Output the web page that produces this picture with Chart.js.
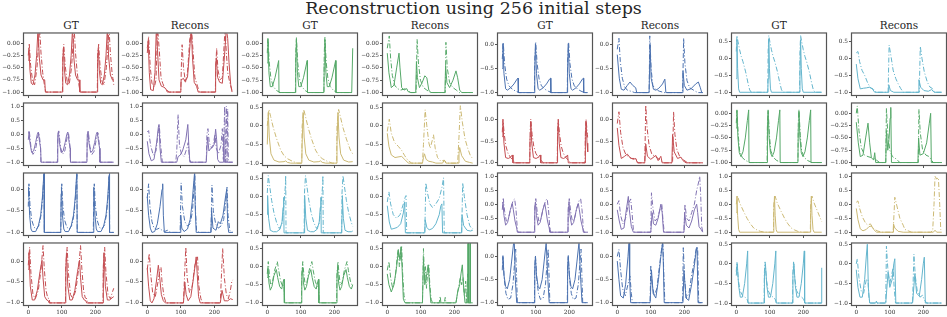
<!DOCTYPE html>
<html>
<head>
<meta charset="utf-8">
<script src="https://cdn.jsdelivr.net/npm/chart.js@4.4.1/dist/chart.umd.min.js"></script>
<style>
  body { margin: 0; background: #fff; width: 947px; height: 317px; position: relative; overflow: hidden; font-family: 'DejaVu Serif', serif; color: #262626; }
  canvas { position: absolute; }
  .title { position: absolute; left: 0; width: 947px; top: 0; text-align: center; font-size: 17.5px; line-height: 17.5px; white-space: nowrap; }
  .sub { position: absolute; top: 20px; width: 94px; text-align: center; font-size: 10.5px; line-height: 10.5px; white-space: nowrap; }
</style>
</head>
<body>
<div class="title">Reconstruction using 256 initial steps</div>
<div id="subs"></div>
<script>
// series are flat [x, y, x, y, ...] lists
const r1c1Solid = [0,-0.35, 2,-0.1, 5,-0.55, 9,-0.82, 14,-0.85, 20,-0.65, 25,-0.25, 29,0.3, 33,-0.3, 38,-0.65, 44,-0.75, 49,-0.75, 51,-1, 102,-1,
  103,-0.35, 105,-0.1, 108,-0.55, 112,-0.82, 117,-0.85, 123,-0.65, 128,-0.25, 132,0.3, 136,-0.3, 141,-0.65, 147,-0.75, 152,-0.75, 154,-1, 206,-1,
  207,-0.35, 209,-0.1, 212,-0.55, 216,-0.82, 221,-0.85, 227,-0.65, 232,-0.25, 236,0.3, 240,-0.3, 245,-0.65, 251,-0.75, 255,-0.75]
const r1c1Dash = [0,-0.25, 3,-0.02, 7,-0.45, 13,-0.78, 19,-0.85, 26,-0.5, 31,0.0, 34,0.3, 38,-0.2, 43,-0.6, 48,-0.85, 52,-1, 102,-1,
  103,-0.25, 106,-0.02, 110,-0.45, 116,-0.78, 122,-0.85, 129,-0.5, 134,0.0, 137,0.3, 141,-0.2, 146,-0.6, 151,-0.85, 155,-1, 206,-1,
  207,-0.25, 210,-0.02, 214,-0.45, 220,-0.78, 226,-0.85, 233,-0.5, 238,0.0, 241,0.3, 245,-0.2, 250,-0.6, 255,-0.85]
const r1c2Solid = [0,-0.1, 3,0.05, 6,-0.6, 10,-0.95, 18,-0.97, 23,-0.6, 27,0.3, 31,-0.2, 35,-0.75, 42,-0.88, 50,-0.9, 55,-0.93, 60,-1, 100,-1,
  101,-0.75, 108,-0.72, 112,-0.78, 120,-0.7, 128,0.0, 131,0.3, 135,-0.3, 140,-0.8, 147,-0.88, 152,-1, 203,-1,
  204,-0.45, 206,-0.3, 210,-0.7, 216,-0.8, 224,-0.82, 230,-0.3, 236,0.3, 240,0.1, 244,-0.4, 249,-0.85, 253,-1, 255,-1]
const r1c2Dash = [0,-0.2, 4,0.14, 9,-0.5, 14,-0.82, 21,-0.9, 26,-0.75, 31,0.3, 36,-0.16, 41,-0.7, 46,-0.82, 51,-0.9, 56,-0.95, 66,-1, 100,-1,
  102,-0.4, 104,-0.03, 108,-0.5, 114,-0.8, 120,-0.6, 127,0.1, 132,0.3, 137,-0.2, 142,-0.7, 150,-0.88, 155,-1, 203,-1,
  205,-0.4, 207,-0.1, 211,-0.55, 217,-0.75, 224,-0.7, 232,0.3, 236,-0.2, 240,-0.6, 246,-0.8, 252,-0.95, 255,-1]

const r1c3Solid = [0,-0.4, 2,0.08, 5,-0.6, 9,-0.88, 15,-0.88, 23,-0.7, 30,-0.48, 34,-0.35, 35,-1, 84,-1,
  85,-0.4, 87,0.08, 90,-0.6, 94,-0.88, 100,-0.88, 108,-0.7, 115,-0.48, 119,-0.35, 120,-1, 169,-1,
  170,-0.4, 172,0.08, 175,-0.6, 179,-0.88, 185,-0.88, 193,-0.7, 200,-0.48, 204,-0.35, 205,-1, 252,-1, 255,-0.1]
const r1c3Dash = [0,-0.2, 2,0.12, 6,-0.4, 11,-0.72, 18,-0.88, 28,-0.96, 38,-1, 84,-1,
  85,-0.2, 87,0.12, 91,-0.4, 96,-0.72, 103,-0.88, 113,-0.96, 123,-1, 169,-1,
  170,-0.2, 172,0.12, 176,-0.4, 181,-0.72, 188,-0.88, 198,-0.96, 208,-1, 255,-1]
const r1c4Solid = [0,-0.2, 5,-0.6, 12,-0.9, 20,-0.85, 28,-0.5, 35,-0.2, 38,-0.5, 43,-0.9, 50,-0.95, 58,-0.92, 62,-0.98, 70,-1, 85,-1,
  87,-0.37, 90,-0.7, 96,-0.9, 104,-0.8, 112,-0.66, 118,-0.7, 124,-0.95, 130,-1, 172,-1,
  174,-0.45, 178,-0.8, 186,-0.9, 196,-0.75, 205,-0.56, 210,-0.7, 216,-0.95, 222,-1, 255,-1]
const r1c4Dash = [0,-0.1, 6,0.15, 10,-0.3, 15,-0.65, 22,-0.85, 30,-0.92, 40,-0.95, 55,-0.92, 60,-0.95, 70,-1, 86,-1,
  89,0.08, 93,-0.4, 99,-0.75, 108,-0.9, 118,-0.95, 128,-1, 173,-1,
  175,0.02, 179,-0.5, 186,-0.8, 196,-0.9, 206,-0.95, 215,-1, 255,-1]

const r1c5Solid = [0,-0.5, 2,0.02, 5,-0.6, 10,-0.92, 15,-0.95, 25,-0.9, 35,-0.82, 44,-0.72, 47,-0.7, 48,-1, 96,-1,
  97,-0.5, 99,0.02, 102,-0.6, 107,-0.92, 112,-0.95, 122,-0.9, 132,-0.82, 141,-0.72, 144,-0.7, 145,-1, 194,-1,
  195,-0.5, 197,0.02, 200,-0.6, 205,-0.92, 210,-0.95, 220,-0.9, 230,-0.82, 239,-0.72, 242,-0.7, 243,-1, 255,-1]
const r1c5Dash = [0,-0.3, 3,0.04, 7,-0.4, 13,-0.72, 20,-0.86, 30,-0.93, 40,-0.97, 50,-1, 96,-1,
  97,-0.3, 100,0.04, 104,-0.4, 110,-0.72, 117,-0.86, 127,-0.93, 137,-0.97, 147,-1, 194,-1,
  195,-0.3, 198,0.04, 202,-0.4, 208,-0.72, 215,-0.86, 225,-0.93, 235,-0.97, 245,-1, 255,-1]
const r1c6Solid = [0,-0.21, 6,-0.7, 12,-0.93, 20,-0.95, 30,-0.85, 38,-0.78, 46,-0.85, 55,-0.9, 58,-1, 95,-1,
  98,-0.01, 101,-0.7, 108,-0.93, 115,-0.95, 122,-0.92, 128,-0.88, 135,-0.82, 142,-0.72, 145,-1, 194,-1,
  196,-0.55, 200,-0.85, 208,-0.95, 220,-0.92, 234,-0.82, 242,-0.78, 248,-0.9, 252,-1, 255,-1]
const r1c6Dash = [0,-0.1, 5,0.13, 9,-0.35, 15,-0.7, 22,-0.88, 30,-0.95, 40,-0.97, 52,-1, 95,-1,
  97,0.18, 101,-0.5, 106,-0.85, 114,-0.93, 125,-0.97, 140,-1, 195,-1,
  198,0.13, 202,-0.4, 208,-0.75, 216,-0.9, 228,-0.95, 240,-1, 255,-1]

const r1c7Solid = [0,-0.6, 2,0.55, 4,-0.3, 7,-0.9, 10,-1, 94,-1,
  95,-0.6, 97,0.55, 99,-0.3, 102,-0.9, 105,-1, 189,-1,
  190,-0.6, 192,0.55, 194,-0.3, 197,-0.9, 200,-1, 255,-1]
const r1c7Dash = [0,0.2, 2,0.67, 5,0.5, 10,0.25, 15,0.05, 20,-0.1, 28,-0.4, 35,-0.73, 40,-0.93, 45,-1, 94,-1,
  95,0.2, 97,0.67, 100,0.5, 105,0.25, 110,0.05, 115,-0.1, 123,-0.4, 130,-0.73, 135,-0.93, 140,-1, 189,-1,
  190,0.2, 192,0.67, 195,0.5, 200,0.25, 205,0.05, 210,-0.1, 218,-0.4, 225,-0.73, 230,-0.93, 235,-1, 255,-1]
const r1c8Solid = [0,-0.17, 5,-0.6, 12,-0.9, 22,-0.88, 30,-0.87, 40,-0.85, 48,-0.9, 55,-1, 95,-1,
  97,-0.78, 102,-0.95, 112,-1, 186,-1,
  187,-0.63, 192,-0.85, 202,-0.95, 215,-0.97, 225,-0.92, 232,-1, 255,-1]
const r1c8Dash = [0,0.16, 5,0.2, 10,-0.1, 17,-0.35, 25,-0.5, 33,-0.7, 42,-0.87, 50,-0.9, 60,-1, 95,-1,
  98,0.39, 103,0.1, 110,-0.35, 118,-0.6, 125,-0.75, 132,-0.88, 140,-1, 188,-1,
  191,0.35, 196,0.0, 203,-0.4, 212,-0.7, 220,-0.85, 225,-0.87, 232,-0.97, 240,-1, 255,-1]

const r2c1Solid = [0,0.0, 2,0.1, 5,-0.3, 10,-0.65, 16,-0.6, 22,-0.3, 27,0.0, 30,0.08, 34,-0.3, 37,-0.5, 38,-1, 87,-1,
  88,0.0, 90,0.1, 93,-0.3, 98,-0.65, 104,-0.6, 110,-0.3, 115,0.0, 118,0.08, 122,-0.3, 125,-0.5, 126,-1, 175,-1,
  176,0.0, 178,0.1, 181,-0.3, 186,-0.65, 192,-0.6, 198,-0.3, 203,0.0, 206,0.08, 210,-0.3, 213,-0.5, 214,-1, 255,-1]
const r2c1Dash = [0,-0.2, 3,0.12, 8,-0.45, 14,-0.72, 21,-0.6, 28,-0.1, 32,0.05, 36,-0.35, 38,-1, 87,-1,
  88,-0.2, 91,0.12, 96,-0.45, 102,-0.72, 109,-0.6, 116,-0.1, 120,0.05, 124,-0.35, 126,-1, 175,-1,
  176,-0.2, 179,0.12, 184,-0.45, 190,-0.72, 197,-0.6, 204,-0.1, 208,0.05, 212,-0.35, 214,-1, 255,-1]
const r2c2Solid = [0,-0.25, 5,-0.7, 12,-0.95, 20,-0.9, 28,-0.3, 33,0.25, 35,0.35, 38,-0.5, 42,-1, 88,-1,
  92,-0.8, 98,-0.75, 105,-0.6, 115,-0.2, 121,0.35, 124,-0.4, 127,-1, 176,-1,
  180,-0.1, 184,-0.6, 190,-0.5, 196,-0.45, 200,-0.35, 204,0.18, 207,-0.2, 210,-0.9, 215,-1, 226,-1, 228,0.0, 230,-1, 255,-1]
const r2c2Dash = [0,0.08, 4,0.13, 10,-0.4, 18,-0.75, 26,-0.6, 33,0.1, 36,0.3, 40,-0.4, 45,-1, 85,-1,
  88,-0.6, 92,0.7, 96,-0.4, 102,-0.7, 110,-0.8, 118,-0.5, 122,-0.3, 126,-0.9, 130,-1, 176,-1,
  178,0.0, 181,0.2, 185,-0.3, 192,-0.5, 198,-0.3, 202,0.0, 206,-0.5, 212,-0.7, 220,-0.4, 224,0.2, 227,-0.9,
  231,1.0, 233,-1, 236,1.0, 238,-1, 240,0.9, 242,-1, 255,-1]

const r2c3Solid = [0,-0.5, 3,0.36, 6,-0.3, 11,-0.75, 20,-0.92, 35,-0.97, 50,-0.96, 55,-0.94, 60,-0.98, 70,-1, 103,-1,
  104,-0.5, 107,0.36, 110,-0.3, 115,-0.75, 124,-0.92, 139,-0.97, 154,-0.96, 159,-0.94, 164,-0.98, 174,-1, 207,-1,
  208,-0.5, 211,0.36, 214,-0.3, 219,-0.75, 228,-0.92, 243,-0.97, 255,-0.96]
const r2c3Dash = [0,0.0, 5,0.44, 10,0.25, 18,-0.05, 28,-0.35, 40,-0.65, 50,-0.8, 60,-0.88, 75,-0.95, 90,-1, 103,-1,
  104,0.0, 109,0.44, 114,0.25, 122,-0.05, 132,-0.35, 144,-0.65, 154,-0.8, 164,-0.88, 179,-0.95, 194,-1, 207,-1,
  208,0.0, 213,0.44, 218,0.25, 226,-0.05, 236,-0.35, 248,-0.65, 255,-0.75]
const r2c4Solid = [0,-0.2, 5,-0.55, 12,-0.78, 23,-0.85, 35,-0.83, 43,-0.82, 52,-0.9, 63,-1, 105,-1,
  108,-0.85, 111,-0.75, 116,-0.9, 124,-0.95, 135,-0.97, 145,-1, 165,-1, 170,-0.92, 175,-1, 212,-1,
  214,-0.75, 216,-0.58, 222,-0.8, 233,-0.95, 245,-0.98, 255,-1]
const r2c4Dash = [0,-0.15, 6,0.18, 12,-0.2, 22,-0.45, 33,-0.55, 43,-0.66, 52,-0.8, 62,-0.93, 73,-1, 105,-1,
  108,-0.5, 113,0.43, 118,0.0, 124,-0.45, 128,-0.6, 134,-0.4, 138,-0.24, 143,-0.6, 150,-0.85, 160,-0.95, 170,-0.92, 178,-1, 210,-1,
  214,-0.3, 218,0.54, 224,0.1, 232,-0.35, 240,-0.6, 248,-0.8, 255,-0.88]

const r2c5Solid = [0,-0.4, 2,-0.05, 5,-0.55, 10,-0.88, 18,-0.9, 25,-0.87, 30,-0.82, 32,-1, 82,-1,
  83,-0.4, 85,-0.05, 88,-0.55, 93,-0.88, 101,-0.9, 108,-0.87, 113,-0.82, 115,-1, 164,-1,
  165,-0.4, 167,-0.05, 170,-0.55, 175,-0.88, 183,-0.9, 190,-0.87, 195,-0.82, 197,-1, 247,-1,
  248,-0.4, 250,-0.05, 253,-0.55, 255,-0.75]
const r2c5Dash = [0,-0.3, 2,0.0, 6,-0.35, 11,-0.62, 17,-0.78, 25,-0.88, 33,-0.95, 40,-1, 82,-1,
  83,-0.3, 85,0.0, 89,-0.35, 94,-0.62, 100,-0.78, 108,-0.88, 116,-0.95, 123,-1, 164,-1,
  165,-0.3, 167,0.0, 171,-0.35, 176,-0.62, 182,-0.78, 190,-0.88, 198,-0.95, 205,-1, 247,-1,
  248,-0.3, 250,0.0, 254,-0.35, 255,-0.45]
const r2c6Solid = [0,-0.2, 5,-0.6, 12,-0.9, 22,-0.85, 30,-0.8, 38,-0.88, 48,-0.92, 55,-0.9, 60,-1, 82,-1,
  85,-0.57, 90,-0.85, 100,-0.92, 115,-0.83, 122,-0.95, 130,-0.85, 134,-1, 163,-1,
  165,-0.35, 170,-0.75, 180,-0.9, 190,-0.87, 196,-0.95, 205,-1, 255,-1]
const r2c6Dash = [0,-0.1, 5,0.17, 10,-0.3, 17,-0.65, 25,-0.8, 32,-0.85, 42,-0.9, 55,-0.9, 62,-1, 82,-1,
  85,0.32, 89,-0.2, 95,-0.6, 103,-0.8, 112,-0.85, 122,-0.9, 130,-0.95, 140,-1, 165,-1,
  168,0.17, 172,-0.35, 178,-0.7, 186,-0.85, 195,-0.92, 210,-1, 255,-1]

const r2c7Solid = [0,-0.3, 2,0.05, 5,-0.5, 9,-0.8, 14,-0.88, 20,-0.78, 27,-0.5, 33,-0.15, 37,0.07, 38,-1, 92,-1,
  93,-0.3, 95,0.05, 98,-0.5, 102,-0.8, 107,-0.88, 113,-0.78, 120,-0.5, 126,-0.15, 130,0.07, 131,-1, 184,-1,
  185,-0.3, 187,0.05, 190,-0.5, 194,-0.8, 199,-0.88, 205,-0.78, 212,-0.5, 218,-0.15, 222,0.07, 223,-1, 255,-1]
const r2c7Dash = [0,-0.2, 2,0.07, 6,-0.45, 10,-0.76, 18,-0.9, 28,-0.96, 35,-0.98, 40,-1, 92,-1,
  93,-0.2, 95,0.07, 99,-0.45, 103,-0.76, 111,-0.9, 121,-0.96, 128,-0.98, 133,-1, 184,-1,
  185,-0.2, 187,0.07, 191,-0.45, 195,-0.76, 203,-0.9, 213,-0.96, 220,-0.98, 225,-1, 255,-1]
const r2c8Solid = [0,-0.18, 6,-0.6, 12,-0.88, 20,-0.85, 28,-0.5, 35,-0.2, 40,-0.6, 45,-0.9, 52,-0.95, 55,-0.8, 58,-1, 88,-1,
  90,-0.35, 94,-0.75, 98,-0.5, 101,-0.1, 103,0.12, 105,-1, 184,-1,
  186,-0.5, 190,-0.85, 200,-0.82, 210,-0.6, 218,-0.2, 222,0.0, 224,-1, 255,-1]
const r2c8Dash = [0,0.0, 3,0.15, 8,-0.35, 15,-0.7, 25,-0.85, 35,-0.88, 45,-0.9, 55,-0.92, 60,-0.95, 70,-1, 88,-1,
  90,0.1, 94,-0.4, 100,-0.75, 108,-0.88, 120,-0.93, 130,-1, 185,-1,
  187,0.08, 191,-0.4, 198,-0.75, 208,-0.85, 218,-0.88, 224,-0.95, 230,-1, 255,-1]

const r3c1Solid = [0,-0.1, 1,0.05, 4,-0.6, 8,-0.92, 12,-0.98, 22,-0.98, 30,-0.85, 37,-0.6, 42,-0.2, 46,0.3, 47,0.4, 48,-1, 97,-1,
  98,-0.1, 99,0.05, 102,-0.6, 106,-0.92, 110,-0.98, 120,-0.98, 128,-0.85, 135,-0.6, 140,-0.2, 144,0.3, 145,0.4, 146,-1, 194,-1,
  195,-0.1, 196,0.05, 199,-0.6, 203,-0.92, 207,-0.98, 217,-0.98, 225,-0.85, 232,-0.6, 237,-0.2, 241,0.3, 242,0.4, 243,-1, 255,-1]
const r3c1Dash = [0,-0.4, 2,0.13, 5,-0.35, 10,-0.7, 17,-0.88, 25,-0.92, 33,-0.82, 39,-0.55, 44,-0.05, 47,0.4, 48,-1, 97,-1,
  98,-0.4, 100,0.13, 103,-0.35, 108,-0.7, 115,-0.88, 123,-0.92, 131,-0.82, 137,-0.55, 142,-0.05, 145,0.4, 146,-1, 194,-1,
  195,-0.4, 197,0.13, 200,-0.35, 205,-0.7, 212,-0.88, 220,-0.92, 228,-0.82, 234,-0.55, 239,-0.05, 242,0.4, 243,-1, 255,-1]
const r3c2Solid = [0,-0.17, 4,-0.6, 9,-0.9, 14,-1, 22,-0.98, 30,-0.8, 38,-0.4, 44,0.0, 46,0.13, 48,-0.6, 51,-1, 98,-1,
  100,-0.6, 103,-0.9, 110,-0.98, 120,-0.92, 128,-0.7, 134,-0.3, 139,0.2, 141,0.37, 143,-0.4, 146,-1, 190,-1,
  192,-0.5, 196,-0.9, 205,-0.95, 212,-0.75, 218,-0.8, 226,-0.6, 233,-0.2, 237,0.0, 240,-0.8, 243,-1, 255,-1]
const r3c2Dash = [0,-0.2, 4,0.13, 8,-0.4, 14,-0.75, 20,-0.9, 28,-0.93, 36,-0.9, 44,-0.95, 52,-0.98, 60,-0.95, 70,-1, 98,-1,
  101,0.15, 105,-0.4, 112,-0.75, 120,-0.85, 128,-0.8, 135,-0.5, 140,0.1, 142,0.4, 144,-0.5, 147,-0.95, 155,-1, 190,-1,
  193,0.1, 197,-0.5, 204,-0.8, 212,-0.9, 220,-0.85, 228,-0.7, 234,-0.3, 238,0.05, 241,-0.6, 246,-0.95, 255,-1]

const r3c3Solid = [0,-0.5, 1,0.03, 4,-0.6, 9,-0.93, 18,-0.97, 28,-0.97, 38,-0.9, 44,-0.7, 47,-0.3, 49,-0.02, 50,-1, 110,-1,
  111,-0.5, 112,0.03, 115,-0.6, 120,-0.93, 129,-0.97, 139,-0.97, 149,-0.9, 155,-0.7, 158,-0.3, 160,-0.02, 161,-1, 222,-1,
  223,-0.5, 224,0.03, 227,-0.6, 232,-0.93, 241,-0.97, 251,-0.97, 255,-0.95]
const r3c3Dash = [0,0.1, 3,0.58, 7,0.3, 13,-0.1, 20,-0.45, 28,-0.72, 36,-0.88, 44,-0.75, 50,-0.2, 54,0.3, 55,0.58, 56,-1, 110,-1,
  111,0.1, 114,0.58, 118,0.3, 124,-0.1, 131,-0.45, 139,-0.72, 147,-0.88, 155,-0.75, 161,-0.2, 165,0.3, 166,0.58, 167,-1, 222,-1,
  223,0.1, 226,0.58, 230,0.3, 236,-0.1, 243,-0.45, 251,-0.72, 255,-0.82]
const r3c4Solid = [0,-0.25, 6,-0.7, 12,-0.9, 20,-0.88, 30,-0.85, 40,-0.75, 48,-0.45, 52,-0.15, 54,-1, 112,-1,
  113,-0.64, 118,-0.85, 125,-0.92, 135,-0.88, 145,-0.75, 155,-0.5, 160,-0.25, 163,-0.2, 165,-1, 222,-1,
  223,-0.5, 228,-0.8, 238,-0.93, 248,-0.95, 255,-0.93]
const r3c4Dash = [0,-0.15, 5,0.13, 10,-0.2, 18,-0.5, 28,-0.6, 38,-0.5, 48,-0.2, 54,0.0, 56,0.03, 58,-1, 112,-1,
  115,0.38, 120,0.1, 127,-0.2, 135,-0.3, 145,-0.2, 155,-0.05, 163,0.25, 168,0.52, 170,-1, 222,-1,
  225,0.38, 230,0.0, 238,-0.5, 246,-0.8, 253,-0.9, 255,-0.88]

const r3c5Solid = [0,-0.1, 2,0.08, 5,-0.4, 10,-0.75, 16,-0.65, 24,-0.2, 30,0.02, 33,-0.2, 38,-0.6, 43,-0.85, 45,-1, 96,-1,
  97,-0.1, 99,0.08, 102,-0.4, 107,-0.75, 113,-0.65, 121,-0.2, 127,0.02, 130,-0.2, 135,-0.6, 140,-0.85, 142,-1, 196,-1,
  197,-0.1, 199,0.08, 202,-0.4, 207,-0.75, 213,-0.65, 221,-0.2, 227,0.02, 230,-0.2, 235,-0.6, 240,-0.85, 242,-1, 255,-1]
const r3c5Dash = [0,-0.2, 3,0.2, 7,-0.25, 12,-0.6, 18,-0.55, 26,-0.1, 33,0.15, 37,0.19, 41,-0.2, 45,-0.9, 47,-1, 96,-1,
  97,-0.2, 100,0.2, 104,-0.25, 109,-0.6, 115,-0.55, 123,-0.1, 130,0.15, 134,0.19, 138,-0.2, 142,-0.9, 144,-1, 196,-1,
  197,-0.2, 200,0.2, 204,-0.25, 209,-0.6, 215,-0.55, 223,-0.1, 230,0.15, 234,0.19, 238,-0.2, 242,-0.9, 244,-1, 255,-1]
const r3c6Solid = [0,-0.2, 6,-0.6, 12,-0.9, 20,-0.85, 27,-0.2, 33,0.28, 36,-0.2, 42,-0.8, 48,-1, 100,-1,
  104,-0.3, 108,-0.7, 115,-0.75, 122,-0.5, 130,0.0, 134,-0.3, 138,-1, 199,-1,
  201,-0.3, 206,-0.75, 214,-0.85, 222,-0.6, 230,-0.2, 237,0.0, 240,-0.3, 244,-0.8, 250,-0.9, 255,-1]
const r3c6Dash = [0,0.0, 5,0.13, 10,-0.4, 17,-0.7, 25,-0.5, 33,0.0, 40,0.19, 44,-0.3, 48,-0.9, 52,-1, 100,-1,
  102,0.41, 107,-0.2, 113,-0.6, 120,-0.5, 127,-0.2, 133,0.0, 136,-0.5, 140,-1, 199,-1,
  202,0.0, 207,-0.5, 214,-0.6, 222,-0.3, 230,0.0, 237,0.5, 243,0.8, 246,1.0, 249,0.3, 252,-0.8, 255,-1]

const r3c7Solid = [0,-0.3, 2,0.29, 4,-0.4, 7,-0.9, 10,-1, 111,-1,
  112,-0.3, 114,0.29, 116,-0.4, 119,-0.9, 122,-1, 221,-1,
  222,-0.3, 224,0.29, 226,-0.4, 229,-0.9, 232,-1, 255,-1]
const r3c7Dash = [0,0.0, 4,0.29, 10,0.05, 22,-0.26, 32,-0.5, 42,-0.7, 52,-0.85, 62,-0.92, 72,-0.97, 85,-1, 111,-1,
  112,0.0, 116,0.29, 122,0.05, 134,-0.26, 144,-0.5, 154,-0.7, 164,-0.85, 174,-0.92, 184,-0.97, 197,-1, 221,-1,
  222,0.0, 226,0.29, 232,0.05, 244,-0.3, 255,-0.62]
const r3c8Solid = [0,-0.15, 5,-0.55, 12,-0.88, 20,-0.95, 30,-0.9, 38,-0.8, 45,-0.78, 52,-0.9, 60,-1, 110,-1,
  111,-0.7, 115,-0.85, 125,-0.97, 140,-1, 230,-1, 235,-0.93, 240,-1, 255,-1]
const r3c8Dash = [0,0.07, 5,0.12, 10,-0.15, 18,-0.45, 28,-0.68, 35,-0.75, 42,-0.7, 50,-0.85, 62,-0.95, 75,-1, 110,-1,
  115,0.25, 122,-0.1, 130,-0.5, 140,-0.75, 145,-0.9, 155,-0.95, 165,-1, 222,-1,
  228,-0.95, 232,0.0, 235,1.0, 240,0.9, 245,0.95, 249,0.0, 252,-0.9, 255,-0.95]

const r4c1Solid = [0,-0.2, 2,0.2, 6,-0.6, 12,-0.93, 19,-0.93, 27,-0.7, 35,-0.25, 41,0.02, 44,-0.4, 49,-0.85, 55,-0.93, 60,-0.95, 62,-1, 111,-1,
  112,-0.2, 114,0.2, 118,-0.6, 124,-0.93, 131,-0.93, 139,-0.7, 147,-0.25, 153,0.02, 156,-0.4, 161,-0.85, 167,-0.93, 172,-0.95, 174,-1, 223,-1,
  224,-0.2, 226,0.2, 230,-0.6, 236,-0.93, 243,-0.93, 250,-0.88, 255,-0.85]
const r4c1Dash = [0,-0.1, 4,0.33, 8,-0.3, 14,-0.8, 21,-0.9, 30,-0.7, 38,-0.2, 44,0.37, 48,-0.2, 53,-0.7, 58,-0.88, 63,-0.9, 64,-1, 111,-1,
  112,-0.1, 116,0.33, 120,-0.3, 126,-0.8, 133,-0.9, 142,-0.7, 150,-0.2, 156,0.37, 160,-0.2, 165,-0.7, 170,-0.88, 175,-0.9, 176,-1, 223,-1,
  224,-0.1, 228,0.33, 232,-0.3, 238,-0.8, 245,-0.9, 252,-0.72, 255,-0.65]
const r4c2Solid = [0,-0.17, 4,-0.6, 9,-0.95, 14,-1, 20,-0.9, 27,-0.5, 33,-0.1, 36,-0.3, 42,-0.8, 48,-0.95, 54,-1, 108,-1,
  112,-0.5, 116,-0.8, 122,-0.95, 130,-0.85, 138,-0.4, 146,0.1, 149,-0.3, 153,-0.85, 158,-1, 218,-1,
  223,-0.7, 230,-0.95, 240,-0.95, 248,-0.9, 255,-0.92]
const r4c2Dash = [0,-0.2, 6,0.18, 10,-0.3, 16,-0.75, 24,-0.85, 32,-0.5, 38,-0.2, 41,-0.15, 44,-0.5, 50,-0.85, 56,-1, 108,-1,
  112,-0.2, 115,0.33, 119,-0.4, 126,-0.75, 134,-0.6, 142,-0.1, 150,0.1, 154,-0.6, 160,-0.9, 165,-1, 218,-1,
  222,-0.2, 225,0.3, 230,-0.4, 236,-0.8, 242,-0.9, 248,-0.7, 252,-0.5, 255,-0.45]

const r4c3Solid = [0,-0.3, 2,-0.02, 5,-0.45, 9,-0.65, 14,-0.55, 20,-0.25, 27,-0.08, 31,-0.3, 37,-0.55, 43,-0.62, 48,-0.4, 50,-0.35, 51,-1, 102,-1,
  103,-0.3, 105,-0.02, 108,-0.45, 112,-0.65, 117,-0.55, 123,-0.25, 130,-0.08, 134,-0.3, 140,-0.55, 146,-0.62, 151,-0.4, 153,-0.35, 154,-1, 207,-1,
  208,-0.3, 210,-0.02, 213,-0.45, 217,-0.65, 222,-0.55, 228,-0.25, 235,-0.08, 239,-0.3, 245,-0.55, 251,-0.62, 255,-0.5]
const r4c3Dash = [0,-0.2, 3,0.14, 6,-0.2, 10,-0.5, 15,-0.45, 22,-0.1, 30,0.14, 34,-0.1, 40,-0.4, 46,-0.55, 50,-0.5, 52,-1, 102,-1,
  103,-0.2, 106,0.14, 109,-0.2, 113,-0.5, 118,-0.45, 125,-0.1, 133,0.14, 137,-0.1, 143,-0.4, 149,-0.55, 153,-0.5, 155,-1, 207,-1,
  208,-0.2, 211,0.14, 214,-0.2, 218,-0.5, 223,-0.45, 230,-0.1, 238,0.14, 242,-0.1, 248,-0.4, 255,-0.55]
const r4c4Solid = [0,-0.2, 5,-0.5, 12,-0.7, 20,-0.5, 28,0.0, 33,0.45, 38,0.2, 41,0.55, 44,0.0, 48,-0.9, 53,-1, 105,-1,
  108,0.2, 112,-0.5, 118,-0.2, 122,0.05, 126,-0.5, 130,-1, 205,-1,
  210,-0.7, 216,-0.5, 220,-0.2, 224,0.05, 228,-0.6, 232,-1, 240,-1, 241,0.8, 242,-1, 246,-1, 247,0.8, 248,-1, 255,-1]
const r4c4Dash = [0,-0.1, 5,0.14, 10,-0.3, 16,-0.6, 24,-0.3, 30,0.3, 33,0.5, 36,0.0, 40,0.4, 43,0.55, 46,-0.2, 50,-0.8, 55,-1, 105,-1,
  108,0.5, 111,-0.3, 114,0.0, 117,-0.6, 120,-0.2, 124,0.05, 127,-0.5, 131,-0.9, 135,-1, 155,-1, 158,-0.82, 160,-1, 170,-1, 173,-0.85, 175,-1, 205,-1,
  212,-0.6, 218,-0.3, 222,-0.5, 226,-0.3, 230,-0.8, 234,-0.4, 236,-1, 240,-0.2, 242,-1, 255,-1]

const r4c5Solid = [0,-0.2, 2,0.0, 5,-0.4, 10,-0.65, 15,-0.7, 22,-0.5, 28,-0.1, 34,0.3, 36,0.3, 39,-0.5, 43,-1, 96,-1,
  97,-0.2, 99,0.0, 102,-0.4, 107,-0.65, 112,-0.7, 119,-0.5, 125,-0.1, 131,0.3, 133,0.3, 136,-0.5, 140,-1, 194,-1,
  195,-0.2, 197,0.0, 200,-0.4, 205,-0.65, 210,-0.7, 217,-0.5, 223,-0.1, 229,0.3, 231,0.3, 234,-0.5, 238,-1, 255,-1]
const r4c5Dash = [0,-0.3, 2,0.02, 6,-0.5, 11,-0.8, 17,-0.93, 25,-0.9, 32,-0.6, 37,-0.1, 40,0.16, 43,-0.5, 45,-1, 96,-1,
  97,-0.3, 99,0.02, 103,-0.5, 108,-0.8, 114,-0.93, 122,-0.9, 129,-0.6, 134,-0.1, 137,0.16, 140,-0.5, 142,-1, 194,-1,
  195,-0.3, 197,0.02, 201,-0.5, 206,-0.8, 212,-0.93, 220,-0.9, 227,-0.6, 232,-0.1, 235,0.16, 238,-0.5, 240,-1, 255,-1]
const r4c6Solid = [0,-0.1, 5,-0.5, 10,-0.85, 18,-0.9, 25,-0.6, 32,0.0, 35,0.3, 37,-0.5, 40,-1, 98,-1,
  102,-0.3, 107,-0.8, 115,-0.9, 123,-0.5, 130,0.0, 135,0.3, 137,0.0, 140,-1, 196,-1,
  199,-0.3, 205,-0.9, 213,-0.95, 222,-0.6, 230,-0.2, 235,0.1, 238,0.2, 241,-1, 255,-1]
const r4c6Dash = [0,0.0, 5,0.15, 10,-0.3, 16,-0.7, 24,-0.85, 32,-0.6, 38,-0.43, 42,-0.8, 45,-1, 98,-1,
  100,-0.19, 104,-0.6, 110,-0.85, 118,-0.7, 126,-0.2, 133,0.2, 136,0.3, 139,-0.4, 142,-1, 195,-1,
  197,0.19, 201,-0.5, 206,-0.9, 214,-0.8, 222,-0.4, 230,-0.1, 236,0.2, 240,0.15, 243,-1, 255,-1]

const r4c7Solid = [0,-0.3, 3,0.0, 7,-0.55, 12,-0.85, 18,-0.85, 25,-0.5, 31,0.0, 34,0.33, 35,-1, 83,-1,
  84,-0.3, 87,0.0, 91,-0.55, 96,-0.85, 102,-0.85, 109,-0.5, 115,0.0, 118,0.33, 119,-1, 168,-1,
  169,-0.3, 172,0.0, 176,-0.55, 181,-0.85, 187,-0.85, 194,-0.5, 200,0.0, 203,0.33, 204,-1, 253,-1, 255,-0.1]
const r4c7Dash = [0,-0.2, 2,0.05, 6,-0.4, 11,-0.68, 18,-0.8, 26,-0.85, 32,-0.9, 36,-1, 83,-1,
  84,-0.2, 86,0.05, 90,-0.4, 95,-0.68, 102,-0.8, 110,-0.85, 116,-0.9, 120,-1, 168,-1,
  169,-0.2, 171,0.05, 175,-0.4, 180,-0.68, 187,-0.8, 195,-0.85, 201,-0.9, 205,-1, 255,-1]
const r4c8Solid = [0,-0.15, 5,-0.6, 11,-0.85, 18,-0.85, 25,-0.4, 30,0.2, 33,0.5, 36,-0.6, 40,-1, 58,-1, 60,-0.95, 62,-1, 88,-1,
  95,-0.2, 100,-0.6, 107,-0.4, 112,0.0, 115,0.13, 118,-1, 168,-1,
  175,-0.25, 180,-0.75, 188,-0.82, 195,-0.4, 200,0.0, 203,0.17, 206,-1, 255,-1]
const r4c8Dash = [0,0.0, 3,0.13, 8,-0.35, 15,-0.7, 22,-0.75, 30,-0.4, 35,-0.4, 38,-0.9, 42,-1, 88,-1,
  90,0.45, 94,-0.1, 100,-0.5, 105,-0.3, 110,-0.1, 113,-0.6, 117,-1, 168,-1,
  172,0.25, 176,-0.3, 182,-0.7, 190,-0.85, 198,-0.8, 202,-0.9, 210,-1, 255,-1]

// tick labels
const xTicks = [0, 100, 200]
const yQuarter = [-1, -0.75, -0.5, -0.25, 0]
const yHalf = [-1, -0.5, 0]
const yHalfUp = [-1, -0.5, 0, 0.5]
const yFull = [-1, -0.5, 0, 0.5, 1]
const colTitles = ['GT', 'Recons', 'GT', 'Recons', 'GT', 'Recons', 'GT', 'Recons']

// seaborn deep
const red = '#c44e52'
const green = '#55a868'
const blue = '#4c72b0'
const purple = '#8172b2'
const yellow = '#ccb974'
const cyan = '#64b5cd'

const colLeft = [24, 143, 263, 383, 498, 613, 732, 852]
const rowTop = [31, 101, 171, 241]
const boxW = 94
const boxH = 64
const padL = 30
const padB = 14

const panels = [
  [0, 0, r1c1Solid, r1c1Dash, red, -1.06, 0.2, yQuarter, 2],
  [0, 1, r1c2Solid, r1c2Dash, red, -1.06, 0.2, yQuarter, 2],
  [0, 2, r1c3Solid, r1c3Dash, green, -1.05, 0.2, yQuarter, 2],
  [0, 3, r1c4Solid, r1c4Dash, green, -1.05, 0.2, yQuarter, 2],
  [0, 4, r1c5Solid, r1c5Dash, blue, -1.05, 0.23, yHalf, 1],
  [0, 5, r1c6Solid, r1c6Dash, blue, -1.05, 0.23, yHalf, 1],
  [0, 6, r1c7Solid, r1c7Dash, cyan, -1.08, 0.73, yHalfUp, 1],
  [0, 7, r1c8Solid, r1c8Dash, cyan, -1.08, 0.73, yHalfUp, 1],
  [1, 0, r2c1Solid, r2c1Dash, purple, -1.1, 1.1, yFull, 1],
  [1, 1, r2c2Solid, r2c2Dash, purple, -1.1, 1.1, yFull, 1],
  [1, 2, r2c3Solid, r2c3Dash, yellow, -1.05, 0.6, yHalfUp, 1],
  [1, 3, r2c4Solid, r2c4Dash, yellow, -1.05, 0.6, yHalfUp, 1],
  [1, 4, r2c5Solid, r2c5Dash, red, -1.05, 0.36, yHalf, 1],
  [1, 5, r2c6Solid, r2c6Dash, red, -1.05, 0.36, yHalf, 1],
  [1, 6, r2c7Solid, r2c7Dash, green, -1.05, 0.2, yQuarter, 2],
  [1, 7, r2c8Solid, r2c8Dash, green, -1.05, 0.2, yQuarter, 2],
  [2, 0, r3c1Solid, r3c1Dash, blue, -1.06, 0.37, yHalf, 1],
  [2, 1, r3c2Solid, r3c2Dash, blue, -1.06, 0.37, yHalf, 1],
  [2, 2, r3c3Solid, r3c3Dash, cyan, -1.06, 0.64, yHalfUp, 1],
  [2, 3, r3c4Solid, r3c4Dash, cyan, -1.06, 0.64, yHalfUp, 1],
  [2, 4, r3c5Solid, r3c5Dash, purple, -1.1, 1.1, yFull, 1],
  [2, 5, r3c6Solid, r3c6Dash, purple, -1.1, 1.1, yFull, 1],
  [2, 6, r3c7Solid, r3c7Dash, yellow, -1.1, 1.1, yFull, 1],
  [2, 7, r3c8Solid, r3c8Dash, yellow, -1.1, 1.1, yFull, 1],
  [3, 0, r4c1Solid, r4c1Dash, red, -1.05, 0.42, yHalf, 1],
  [3, 1, r4c2Solid, r4c2Dash, red, -1.05, 0.42, yHalf, 1],
  [3, 2, r4c3Solid, r4c3Dash, green, -1.06, 0.64, yHalfUp, 1],
  [3, 3, r4c4Solid, r4c4Dash, green, -1.06, 0.64, yHalfUp, 1],
  [3, 4, r4c5Solid, r4c5Dash, blue, -1.05, 0.28, yHalf, 1],
  [3, 5, r4c6Solid, r4c6Dash, blue, -1.05, 0.28, yHalf, 1],
  [3, 6, r4c7Solid, r4c7Dash, cyan, -1.05, 0.52, yHalfUp, 1],
  [3, 7, r4c8Solid, r4c8Dash, cyan, -1.05, 0.52, yHalfUp, 1]
]

const toPoints = flat => {
  const out = []
  for (let i = 0; i < flat.length; i += 2) out.push({ x: flat[i], y: flat[i + 1] })
  return out
}
const minus = s => s.replace('-', '\u2212')

// matplotlib style frame on all four sides
const frame = {
  id: 'frame',
  afterDatasetsDraw (chart) {
    const a = chart.chartArea
    const ctx = chart.ctx
    ctx.save()
    ctx.strokeStyle = '#555'
    ctx.lineWidth = 1.2
    ctx.strokeRect(a.left - 0.5, a.top - 0.5, a.right - a.left + 1, a.bottom - a.top + 1)
    ctx.restore()
  }
}

const tickFont = { family: 'DejaVu Serif', size: 5.8 }

colTitles.forEach((t, i) => {
  const d = document.createElement('div')
  d.className = 'sub'
  d.style.left = colLeft[i] + 'px'
  d.textContent = t
  document.getElementById('subs').appendChild(d)
})

panels.forEach(([row, col, solid, dash, color, yMin, yMax, yTicks, dec]) => {
  const cv = document.createElement('canvas')
  const w = padL + boxW + 3
  const h = 2 + boxH + padB
  cv.width = w
  cv.height = h
  cv.style.left = (colLeft[col] - padL) + 'px'
  cv.style.top = (rowTop[row] - 2) + 'px'
  cv.style.width = w + 'px'
  cv.style.height = h + 'px'
  document.body.appendChild(cv)

  new Chart(cv, { // eslint-disable-line
    type: 'line',
    data: {
      datasets: [
        { data: toPoints(solid), borderColor: color, borderWidth: 1 },
        { data: toPoints(dash), borderColor: color, borderWidth: 1, borderDash: [5, 2, 1, 2] }
      ]
    },
    options: {
      responsive: false,
      animation: false,
      devicePixelRatio: 1,
      layout: { padding: { top: 2, right: 3, left: 0, bottom: 0 } },
      elements: { point: { radius: 0 }, line: { tension: 0 } },
      plugins: { legend: { display: false }, tooltip: { enabled: false } },
      scales: {
        x: {
          type: 'linear',
          min: -12.75,
          max: 267.75,
          afterBuildTicks: s => { s.ticks = xTicks.map(v => ({ value: v })) },
          afterFit: s => { s.height = padB },
          border: { display: false },
          grid: { drawOnChartArea: false, drawTicks: true, tickLength: 3, color: '#555' },
          ticks: { display: row === 3, font: tickFont, color: '#333', padding: 1, maxRotation: 0, autoSkip: false, callback: v => String(v) }
        },
        y: {
          min: yMin,
          max: yMax,
          afterBuildTicks: s => { s.ticks = yTicks.map(v => ({ value: v })) },
          afterFit: s => { s.width = padL },
          border: { display: false },
          grid: { drawOnChartArea: false, drawTicks: true, tickLength: 3, color: '#555' },
          ticks: { font: tickFont, color: '#333', padding: 1, autoSkip: false, callback: v => minus(v.toFixed(dec)) }
        }
      }
    },
    plugins: [frame]
  })
})
</script>
</body>
</html>
